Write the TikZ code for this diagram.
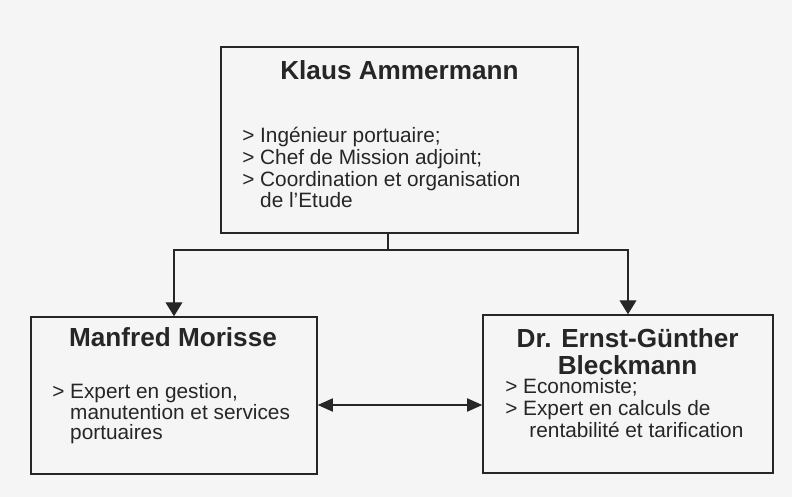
\documentclass[tikz,border=0pt]{standalone}
\usepackage{fontspec}
\setmainfont{Liberation Sans}
\usepackage{tikz}
\usetikzlibrary{arrows.meta}

\begin{document}
\begin{tikzpicture}
	\tikzstyle{box}=[draw=black!85,line width=1pt,inner sep=0pt]
	\tikzstyle{person}=[font=\fontsize{18.6}{19.9}\selectfont\bfseries,text=black!85,align=center,inner sep=0pt,anchor=base]
	\tikzstyle{tasks}=[font=\fontsize{14.8}{15.6}\selectfont,text=black!85,align=left,inner sep=0pt,anchor=base west]
	\tikzstyle{link}=[draw=black!85,line width=1pt]
	\useasboundingbox[fill=black!4] (0,0) rectangle (19.8,-12.425);
	% boxes
	\node[box,minimum width=8.925cm,minimum height=4.65cm] (chef) at (9.9875,-3.5) {};
	\node[box,minimum width=7.15cm,minimum height=3.925cm] (gestion) at (4.35,-9.8875) {};
	\node[box,minimum width=7.25cm,minimum height=3.95cm] (eco) at (15.7,-9.85) {};
	% texts (base = last line)
	\node[person] (chefname) at (9.9875,-2.0) {Klaus Ammermann};
	\node[tasks] (cheftasks) at (6.05,-5.2) {> Ingénieur portuaire;\\> Chef de Mission adjoint;\\> Coordination et organisation\\\hphantom{>~}de l'Etude};
	\node[person] (gestionname) at (4.325,-8.675) {Manfred Morisse};
	\node[tasks,font=\fontsize{14.8}{14.9}\selectfont] (gestiontasks) at (1.3,-11.0) {> Expert en gestion,\\\hphantom{>~}manutention et services\\\hphantom{>~}portuaires};
	\node[person] (econame) at (15.69,-9.375) {Dr. Ernst-Günther\\Bleckmann};
	\node[tasks,font=\fontsize{14.8}{16}\selectfont] (ecotasks) at (12.625,-10.95) {> Economiste;\\> Expert en calculs de\\\hphantom{>~}\hspace{0.3em}rentabilité et tarification};
	% connectors
	\coordinate (split) at (9.7,-6.25);
	\coordinate (mid) at (10,-10.125);
	\draw[link] (split |- chef.south) -- (split);
	\draw[link,-{Triangle[length=0.35cm,width=0.42cm]}] (split) -| (gestion.north);
	\draw[link,-{Triangle[length=0.35cm,width=0.42cm]}] (split) -| (eco.north);
	\draw[link,{Triangle[length=0.38cm,width=0.33cm]}-{Triangle[length=0.38cm,width=0.33cm]}] (gestion.east |- mid) -- (eco.west |- mid);
\end{tikzpicture}
\end{document}
